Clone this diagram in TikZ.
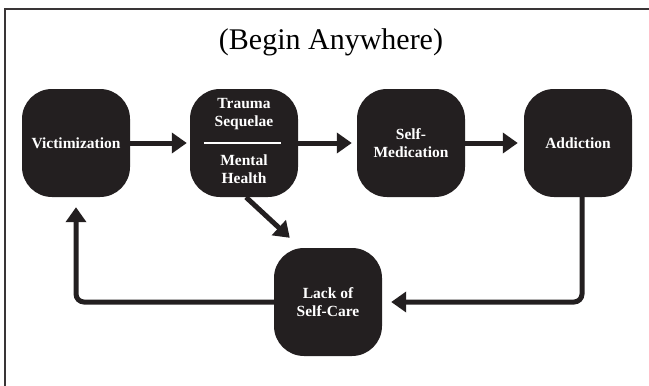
\documentclass[tikz,border=0pt]{standalone}
\usepackage{fontspec}
\setmainfont{Liberation Serif}
\usepackage{tikz}
\usetikzlibrary{arrows.meta}

\definecolor{boxblack}{HTML}{231F20}

\tikzset{
  stage/.style={fill=boxblack, rounded corners=30pt, minimum width=108pt,
    minimum height=108pt, inner sep=0pt, text=white, align=center,
    font=\fontsize{15.5}{18}\selectfont\bfseries},
  stagetext/.style={text=white, align=center, inner sep=0pt,
    font=\fontsize{15.5}{18}\selectfont\bfseries},
  flow/.style={line width=5pt, draw=boxblack, -{Triangle[width=20pt,length=15pt]}},
}

\begin{document}
\begin{tikzpicture}[x=1pt, y=-1pt]
\clip (0,0) rectangle (649,386);
\draw [line width=2.5pt, draw=boxblack!90] (5,9) rectangle (700,450);

\node (title) at (331,42) {\fontsize{30}{36}\selectfont (Begin Anywhere)};

\node[stage] (V) at (76,143) {Victimization};
\node[stage] (T) at (244,143) {};
\node[stage] (S) at (411,143) {Self-\\Medication};
\node[stage] (A) at (578,143) {Addiction};
\node[stage] (L) at (328,302) {Lack of\\Self-Care};

\node[stagetext] (T1) at (244,114) {Trauma\\Sequelae};
\node[stagetext] (T2) at (244,169) {Mental\\Health};
\draw [white, line width=2pt] ([xshift=14pt]T.west) -- ([xshift=-17pt]T.east);

\draw [flow, shorten >=3pt] (V) -- (T);
\draw [flow, shorten >=5pt] (T) -- (S);
\draw [flow, shorten >=6pt] (S) -- (A);
\draw [flow] ([xshift=2pt]T.south) -- ([xshift=16pt, yshift=10pt]L.north west);
\draw [flow, rounded corners=8pt, shorten >=9pt] ([xshift=4pt]A.south) |- (L.east);
\draw [flow, rounded corners=8pt, shorten >=10pt] (L.west) -| (V.south);
\end{tikzpicture}
\end{document}
